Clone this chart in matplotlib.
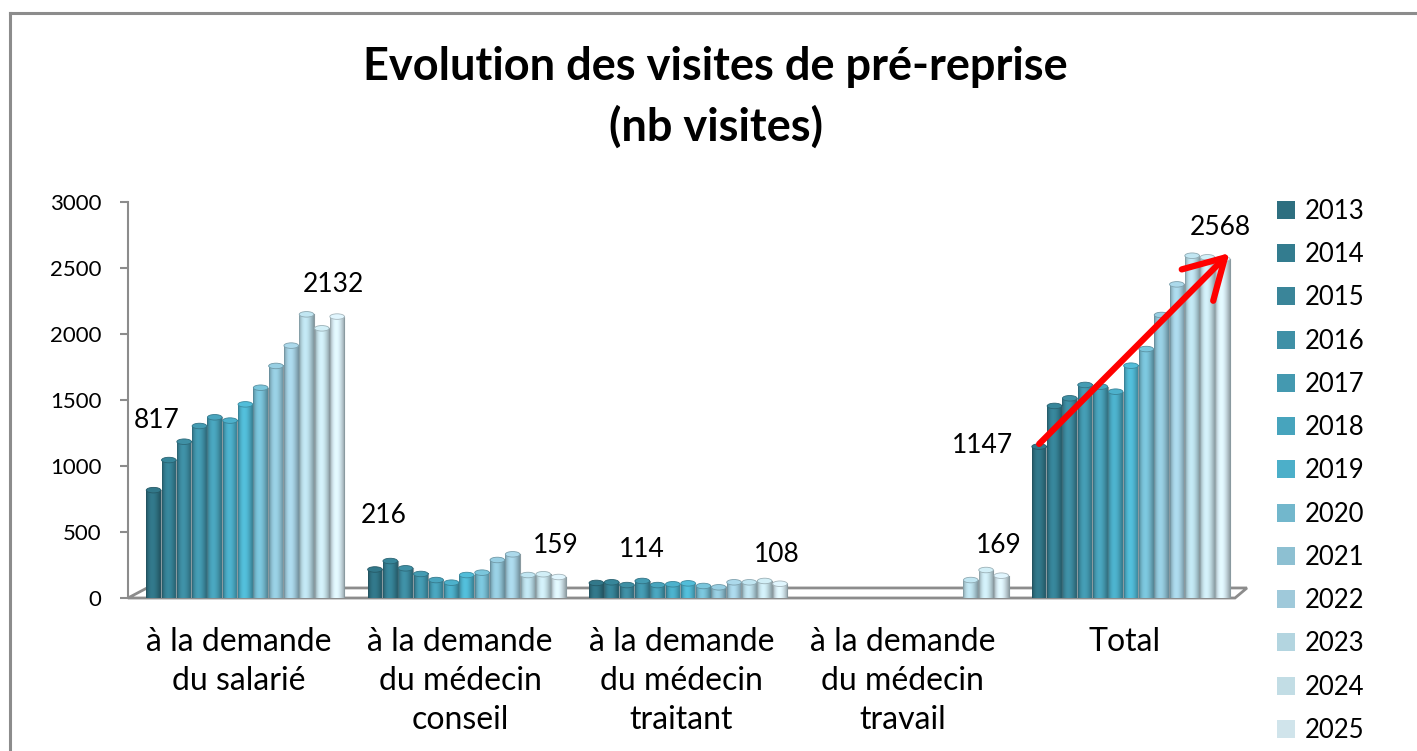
import numpy as np
import matplotlib.pyplot as plt
from matplotlib.patches import Ellipse, Patch, Polygon
from matplotlib.lines import Line2D
from matplotlib.colors import to_rgb

plt.rcParams['font.family'] = ['Lato', 'DejaVu Sans']

# données : nombre de visites de pré-reprise par demandeur et par année
categories = ['à la demande\ndu salarié', 'à la demande\ndu médecin\nconseil',
              'à la demande\ndu médecin\ntraitant', 'à la demande\ndu médecin\ntravail',
              'Total']
years = [str(y) for y in range(2013, 2026)]
salarie = [817, 1045, 1184, 1303, 1369, 1344, 1467, 1593, 1758, 1912, 2149, 2043, 2132]
conseil = [216, 280, 225, 182, 136, 116, 174, 192, 288, 331, 174, 180, 159]
traitant = [114, 119, 98, 129, 98, 104, 111, 91, 81, 119, 119, 129, 108]
travail = [0, 0, 0, 0, 0, 0, 0, 0, 0, 0, 136, 212, 169]
total = [1147, 1455, 1513, 1614, 1601, 1563, 1760, 1886, 2144, 2376, 2593, 2581, 2568]
series = [salarie, conseil, traitant, travail, total]

colors = ['#2e6f80', '#337c8f', '#3a8599', '#3f90a6', '#4499b0', '#47a4bd', '#4cafc9',
          '#72b7cc', '#8dc0d2', '#9fc9da', '#b3d5e0', '#c2dde5', '#d0e4eb']

fig = plt.figure(figsize=(14.17, 7.51), dpi=100)
ax = fig.add_axes([128 / 1417, 153 / 751, 1107 / 1417, 396 / 751])

slot = 0.0691
bar_w = 0.066
shift = 0.03
t = np.linspace(0, 1, 40)
shade = 0.72 + 0.38 * np.sin(np.pi * t ** 0.8)


def bar_x(g, i):
    return g + 0.5 + shift + (i - 6) * slot


for g, vals in enumerate(series):
    for i, v in enumerate(vals):
        if v <= 0:
            continue
        xc = bar_x(g, i)
        rgb = np.array(to_rgb(colors[i]))
        grad = np.clip(shade[:, None] * rgb[None, :], 0, 1)[None, :, :]
        ax.imshow(grad, extent=[xc - bar_w / 2, xc + bar_w / 2, 0, v],
                  aspect='auto', interpolation='bilinear', zorder=2 + i * 0.01)
        ax.plot([xc - bar_w / 2, xc - bar_w / 2], [0, v], color=rgb * 0.75, lw=0.6, zorder=2.5)
        ax.plot([xc + bar_w / 2, xc + bar_w / 2], [0, v], color='#8a9aa0', lw=0.8, zorder=2.5)
        ax.add_patch(Ellipse((xc, v), bar_w, 42, facecolor=np.clip(rgb * 1.08, 0, 1),
                             edgecolor=rgb * 0.8, lw=0.6, zorder=3 + i * 0.01))

# plancher gris
ax.add_patch(Polygon([(0, 0), (0.086, 76), (5.054, 76), (5.0, 0)], closed=True,
                     facecolor='none', edgecolor='#8c8c8c', lw=2, clip_on=False, zorder=1))

# étiquettes de valeurs (première et dernière année)
labels = [(0, 0, (2, 50)), (0, 12, (-2.5, 23)), (1, 0, (6, 39)), (1, 12, (-2, 23)),
          (2, 0, (33, 24)), (2, 12, (-2, 21)), (3, 12, (-1.5, 22)), (4, 0, (-41, 1)),
          (4, 12, (-2, 23))]
for g, i, off in labels:
    v = series[g][i]
    ax.annotate(str(v), (bar_x(g, i), v), xytext=off, textcoords='offset points',
                ha='center', va='center', fontsize=19, zorder=5)

# flèche de tendance sur le total
ax.annotate('', xy=(bar_x(4, 12) + 0.03, total[-1] + 45), xytext=(bar_x(4, 0), total[0] + 20),
            arrowprops=dict(arrowstyle='->,head_length=0.7,head_width=0.4', color='red',
                            lw=4.5, mutation_scale=40, shrinkA=0, shrinkB=0), zorder=6)

ax.set_xlim(0, 5)
ax.set_ylim(0, 3000)
ax.set_yticks(range(0, 3001, 500))
ax.set_xticks([g + 0.5 for g in range(5)])
ax.set_xticklabels(categories, fontsize=23, linespacing=1.38, va='top')
ax.tick_params(axis='x', length=0, pad=21)
ax.tick_params(axis='y', length=6, width=1.5, color='#8c8c8c', labelsize=16, pad=13)
for s in ['top', 'right', 'bottom']:
    ax.spines[s].set_visible(False)
ax.spines['left'].set_color('#8c8c8c')
ax.spines['left'].set_linewidth(1.5)

fig.text(0.505, 1 - 46 / 751, 'Evolution des visites de pré-reprise\n(nb visites)', ha='center',
         va='top', fontsize=32.5, fontweight='bold', linespacing=1.5)

handles = [Patch(facecolor=c, edgecolor='none') for c in colors]
fig.legend(handles, years, loc='upper left', bbox_to_anchor=(1264 / 1417, 1 - 186 / 751),
           frameon=False, fontsize=18.5, handlelength=0.7, handleheight=0.7,
           handletextpad=0.4, labelspacing=0.71, borderpad=0)

# cadre du graphique
fig.add_artist(Line2D([9.5 / 1417, 9.5 / 1417], [0, 1 - 13 / 751], color='#8c8c8c', lw=2.2))
fig.add_artist(Line2D([9.5 / 1417, 1], [1 - 13 / 751, 1 - 13 / 751], color='#8c8c8c', lw=2.2))

fig.savefig('out.png', dpi=100)
